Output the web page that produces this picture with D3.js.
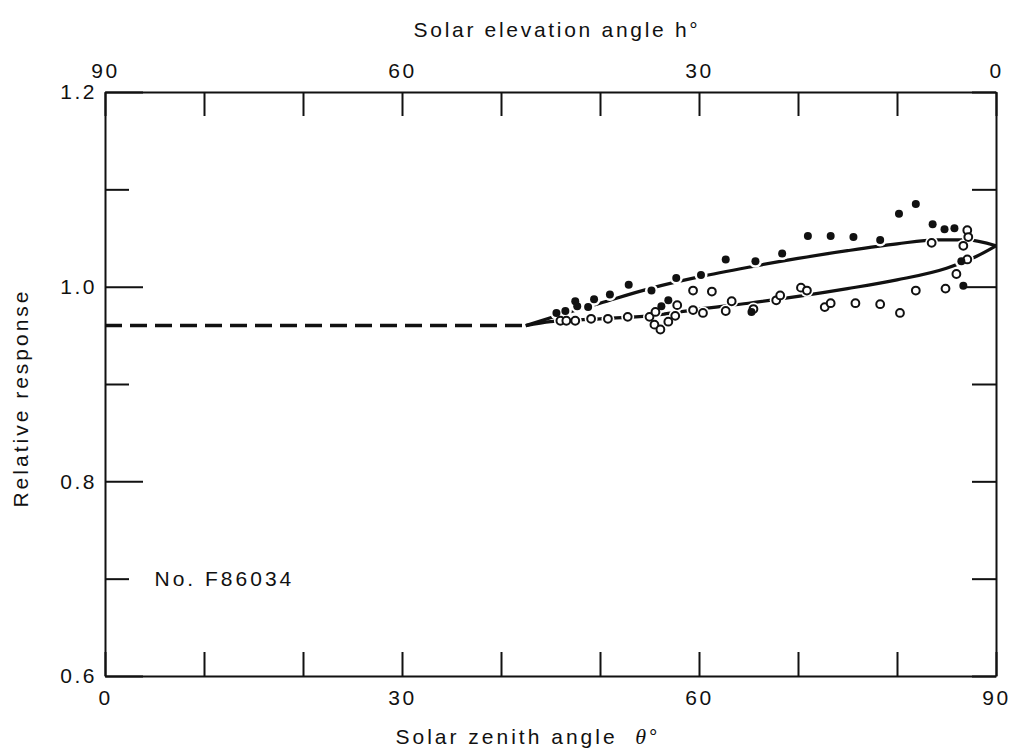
<!DOCTYPE html>
<html>
<head>
<meta charset="utf-8">
<script src="https://cdn.jsdelivr.net/npm/d3@7"></script>
<style>
body { margin: 0; background: #fff; }
svg { display: block; }
text { font-family: "Liberation Sans", Arial, sans-serif; fill: #111; }
</style>
</head>
<body>
<svg id="chart" width="1012" height="749"></svg>
<script>
// values: solar zenith angle (deg) and relative response
var filledAngle = [45.6, 46.5, 47.5, 47.7, 48.8, 49.4, 51.0, 52.9, 55.2, 56.2, 56.9, 57.7, 60.2, 62.7,
  65.3, 65.7, 68.4, 71.0, 73.3, 75.6, 78.3, 80.2, 81.9, 83.6, 84.8, 85.8, 86.5, 86.7];
var filledResp = [0.973, 0.975, 0.985, 0.980, 0.979, 0.987, 0.992, 1.002, 0.996, 0.980, 0.986, 1.009, 1.012, 1.028,
  0.974, 1.026, 1.034, 1.052, 1.052, 1.051, 1.048, 1.075, 1.085, 1.064, 1.059, 1.060, 1.026, 1.001];

var openAngle = [46.0, 46.6, 47.5, 49.1, 50.8, 52.8, 55.0, 55.5, 55.6, 56.1, 56.9, 57.6, 57.8, 59.4, 59.4,
  60.4, 61.3, 62.7, 63.3, 65.5, 67.8, 68.2, 70.3, 70.9, 72.7, 73.3, 75.8, 78.3, 80.3, 81.9, 83.5, 84.9,
  86.0, 86.7, 87.1, 87.1, 87.2];
var openResp = [0.965, 0.965, 0.965, 0.967, 0.967, 0.969, 0.969, 0.961, 0.974, 0.956, 0.964, 0.970, 0.981, 0.996, 0.976,
  0.973, 0.995, 0.975, 0.985, 0.977, 0.986, 0.991, 0.999, 0.996, 0.979, 0.983, 0.983, 0.982, 0.973, 0.996, 1.045, 0.998,
  1.013, 1.042, 1.028, 1.058, 1.051];

var upperAngle = [42.5, 45, 50, 55, 60, 65, 70, 75, 80, 84, 87, 90];
var upperResp = [0.960, 0.968, 0.983, 0.998, 1.010, 1.020, 1.029, 1.037, 1.044, 1.048, 1.048, 1.042];
var lowerAngle = [42.5, 45, 50, 55, 60, 65, 70, 75, 80, 85, 88, 90];
var lowerResp = [0.960, 0.964, 0.967, 0.970, 0.977, 0.983, 0.990, 0.998, 1.007, 1.019, 1.031, 1.042];
var flatAngle = [0, 42.5];
var flatResp = [0.96, 0.96];

var zenithTicks = [0, 10, 20, 30, 40, 50, 60, 70, 80, 90];
var elevationTicks = [90, 80, 70, 60, 50, 40, 30, 20, 10, 0];
var respTicks = [0.6, 0.7, 0.8, 0.9, 1.0, 1.1, 1.2];
var instrumentLabel = "No. F86034";

var svg = d3.select("#chart");
var margin = {top: 92, right: 16, bottom: 73, left: 105};
var plotWidth = 1012 - margin.left - margin.right;
var plotHeight = 749 - margin.top - margin.bottom;

var plot = svg.append("g")
  .attr("transform", "translate(" + margin.left + "," + margin.top + ")");

var x = d3.scaleLinear().domain([0, 90]).range([0, plotWidth]);
var xTop = d3.scaleLinear().domain([90, 0]).range([0, plotWidth]);
var y = d3.scaleLinear().domain([0.6, 1.2]).range([plotHeight, 0]);

// curves
var line = d3.line()
  .x(function(d) { return x(d[0]); })
  .y(function(d) { return y(d[1]); })
  .curve(d3.curveMonotoneX);

plot.append("path")
  .datum(d3.zip(flatAngle, flatResp))
  .attr("d", line)
  .attr("fill", "none")
  .attr("stroke", "#111")
  .attr("stroke-width", 3.5)
  .attr("stroke-dasharray", "17,8");

[[upperAngle, upperResp], [lowerAngle, lowerResp]].forEach(function(c) {
  plot.append("path")
    .datum(d3.zip(c[0], c[1]))
    .attr("d", line)
    .attr("fill", "none")
    .attr("stroke", "#111")
    .attr("stroke-width", 3.2);
});

// white halo so the curves break around the points
var allPts = d3.zip(filledAngle, filledResp).concat(d3.zip(openAngle, openResp));
plot.append("g").selectAll("circle")
  .data(allPts)
  .enter().append("circle")
  .attr("cx", function(d) { return x(d[0]); })
  .attr("cy", function(d) { return y(d[1]); })
  .attr("r", 6.5)
  .attr("fill", "#fff");

plot.append("g").selectAll("circle")
  .data(d3.zip(openAngle, openResp))
  .enter().append("circle")
  .attr("cx", function(d) { return x(d[0]); })
  .attr("cy", function(d) { return y(d[1]); })
  .attr("r", 3.9)
  .attr("fill", "#fff")
  .attr("stroke", "#111")
  .attr("stroke-width", 2);

plot.append("g").selectAll("circle")
  .data(d3.zip(filledAngle, filledResp))
  .enter().append("circle")
  .attr("cx", function(d) { return x(d[0]); })
  .attr("cy", function(d) { return y(d[1]); })
  .attr("r", 4)
  .attr("fill", "#111");

// axes, ticks pointing inward
var isMajor = function(d) { return Math.round(d * 10) % 2 === 0; };

var bottomAxis = d3.axisBottom(x).tickValues(zenithTicks)
  .tickSizeInner(-24).tickSizeOuter(0).tickPadding(14)
  .tickFormat(function(d) { return d % 30 === 0 ? d : ""; });
var topAxis = d3.axisTop(xTop).tickValues(elevationTicks)
  .tickSizeInner(-24).tickSizeOuter(0).tickPadding(14)
  .tickFormat(function(d) { return d % 30 === 0 ? d : ""; });
var leftAxis = d3.axisLeft(y).tickValues(respTicks)
  .tickSizeInner(-24).tickSizeOuter(0).tickPadding(8)
  .tickFormat(function(d) { return isMajor(d) ? d3.format(".1f")(d) : ""; });
var rightAxis = d3.axisRight(y).tickValues(respTicks)
  .tickSizeInner(-24).tickSizeOuter(0)
  .tickFormat("");

var gBottom = plot.append("g").attr("transform", "translate(0," + plotHeight + ")").call(bottomAxis);
var gTop = plot.append("g").call(topAxis);
var gLeft = plot.append("g").call(leftAxis);
var gRight = plot.append("g").attr("transform", "translate(" + plotWidth + ",0)").call(rightAxis);

// longer ticks at 0.8 and 1.0 on the left
gLeft.selectAll(".tick line").attr("x2", function(d) { return isMajor(d) ? 38 : 24; });
gRight.selectAll(".tick line").attr("x2", function(d) { return Math.abs(d - 1.0) < 1e-6 ? -32 : -24; });

[gBottom, gTop, gLeft, gRight].forEach(function(g) {
  g.attr("font-family", null).attr("font-size", null);
  g.select(".domain").attr("stroke", "#111").attr("stroke-width", 2);
  g.selectAll(".tick line").attr("stroke", "#111").attr("stroke-width", 2);
  g.selectAll(".tick text")
    .style("font-size", "21px")
    .style("letter-spacing", "2.5px")
    .attr("fill", "#111");
});

// titles
svg.append("text")
  .attr("x", 557)
  .attr("y", 37)
  .attr("text-anchor", "middle")
  .style("font-size", "21px")
  .style("letter-spacing", "2.7px")
  .text("Solar elevation angle h°");

var bottomTitle = svg.append("text")
  .attr("x", 528)
  .attr("y", 744)
  .attr("text-anchor", "middle")
  .style("font-size", "21px")
  .style("letter-spacing", "3px");
bottomTitle.append("tspan").text("Solar zenith angle\u00a0 ");
bottomTitle.append("tspan")
  .style("font-family", "'Liberation Serif', serif")
  .style("font-style", "italic")
  .style("font-size", "22px")
  .text("θ");
bottomTitle.append("tspan").text("°");

svg.append("text")
  .attr("transform", "translate(28,398) rotate(-90)")
  .attr("text-anchor", "middle")
  .style("font-size", "21px")
  .style("letter-spacing", "3px")
  .text("Relative response");

plot.append("text")
  .attr("x", x(5))
  .attr("y", y(0.7))
  .attr("dy", "0.36em")
  .style("font-size", "21px")
  .style("letter-spacing", "3px")
  .text(instrumentLabel);
</script>
</body>
</html>
